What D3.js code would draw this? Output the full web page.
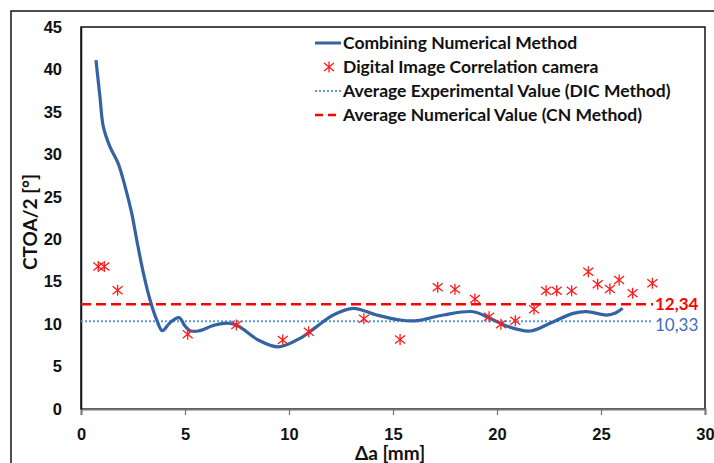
<!DOCTYPE html>
<html>
<head>
<meta charset="utf-8">
<script src="https://cdn.jsdelivr.net/npm/d3@7"></script>
<style>
  html, body { margin: 0; padding: 0; background: #fff; }
  svg { display: block; font-family: Lato, "Liberation Sans", sans-serif; }
</style>
</head>
<body>
<div id="chart"></div>
<script>
// Data
const curveX = [0.72, 0.91, 1.07, 1.39, 1.79, 2.12, 2.44, 2.68, 3.0, 3.32, 3.64, 3.91, 4.28, 4.71, 5.0, 5.24, 5.64, 6.44, 7.08, 7.56, 8.52, 9.5, 10.53, 11.33, 12.13, 13.09, 14.21, 15.34, 16.14, 17.42, 18.86, 19.66, 20.46, 21.59, 22.55, 23.67, 24.31, 25.27, 25.67, 26.04];
const curveY = [41.1, 36.8, 33.3, 30.9, 28.9, 26.2, 23.05, 19.9, 16.0, 12.84, 10.5, 9.23, 10.17, 10.76, 9.78, 9.23, 9.19, 9.9, 10.1, 9.78, 8.13, 7.32, 8.33, 9.7, 11.07, 11.86, 11.07, 10.48, 10.4, 11.07, 11.46, 10.68, 9.78, 9.19, 10.1, 11.27, 11.46, 11.07, 11.27, 11.86];

const dicX = [0.83, 1.12, 1.76, 5.13, 7.47, 9.70, 10.95, 13.6, 15.34, 17.15, 17.98, 18.94, 19.62, 20.19, 20.88, 21.78, 22.36, 22.87, 23.59, 24.39, 24.84, 25.43, 25.87, 26.52, 27.47];
const dicY = [16.8, 16.8, 14.0, 8.8, 9.9, 8.13, 9.1, 10.64, 8.2, 14.33, 14.1, 12.96, 10.88, 9.97, 10.4, 11.74, 13.94, 13.94, 13.94, 16.18, 14.69, 14.14, 15.2, 13.63, 14.8];

const avgDIC = 10.33;
const avgCN = 12.34;
const avgEndX = 27.5;

const xTicks = [0, 5, 10, 15, 20, 25, 30];
const yTicks = [0, 5, 10, 15, 20, 25, 30, 35, 40, 45];

const legendLabels = [
  "Combining Numerical Method",
  "Digital Image Correlation camera",
  "Average Experimental Value (DIC Method)",
  "Average Numerical Value (CN Method)"
];

// Layout
const width = 714, height = 463;
const plot = { left: 81, top: 27, right: 705, bottom: 409 };

const svg = d3.select("#chart").append("svg")
  .attr("width", width)
  .attr("height", height);

// outer frame (cropped on right and bottom)
svg.append("rect")
  .attr("x", 11).attr("y", 11)
  .attr("width", 760).attr("height", 500)
  .attr("fill", "none")
  .attr("stroke", "#222")
  .attr("stroke-width", 1.6);

const x = d3.scaleLinear().domain([0, 30]).range([plot.left, plot.right]);
const y = d3.scaleLinear().domain([0, 45]).range([plot.bottom, plot.top]);

// plot area border
svg.append("rect")
  .attr("x", plot.left).attr("y", plot.top)
  .attr("width", plot.right - plot.left)
  .attr("height", plot.bottom - plot.top)
  .attr("fill", "none")
  .attr("stroke", "#111")
  .attr("stroke-width", 1.5);

// x axis
const xAxis = svg.append("g")
  .attr("transform", `translate(0,${plot.bottom})`)
  .call(d3.axisBottom(x).tickValues(xTicks).tickSize(6).tickPadding(13).tickFormat(d3.format("d")));
xAxis.select(".domain").attr("stroke", "#777").attr("stroke-width", 2);
xAxis.selectAll(".tick line").attr("stroke", "#777").attr("stroke-width", 1.3);
xAxis.selectAll("text")
  .attr("fill", "#111")
  .style("font-size", "16.5px")
  .style("font-weight", "bold");

// y axis
const yAxis = svg.append("g")
  .attr("transform", `translate(${plot.left},0)`)
  .call(d3.axisLeft(y).tickValues(yTicks).tickSize(0).tickPadding(19).tickFormat(d3.format("d")));
yAxis.select(".domain").attr("stroke", "#111").attr("stroke-width", 1.5);
yAxis.selectAll("text")
  .attr("fill", "#111")
  .style("font-size", "16.5px")
  .style("font-weight", "bold");

// axis titles
svg.append("text")
  .attr("x", 390)
  .attr("y", 460)
  .attr("text-anchor", "middle")
  .style("font-size", "19px")
  .style("font-weight", "bold")
  .attr("fill", "#111")
  .text("Δa [mm]");

svg.append("text")
  .attr("transform", `translate(37,222) rotate(-90)`)
  .attr("text-anchor", "middle")
  .style("font-size", "19px")
  .style("font-weight", "bold")
  .attr("fill", "#111")
  .text("CTOA/2 [°]");

// average lines
svg.append("line")
  .attr("x1", x(0)).attr("x2", x(avgEndX))
  .attr("y1", y(avgDIC)).attr("y2", y(avgDIC))
  .attr("stroke", "#5b9bd5")
  .attr("stroke-width", 2)
  .attr("stroke-dasharray", "2,2");

svg.append("line")
  .attr("x1", x(0)).attr("x2", x(avgEndX))
  .attr("y1", y(avgCN)).attr("y2", y(avgCN))
  .attr("stroke", "#ff0000")
  .attr("stroke-width", 2.5)
  .attr("stroke-dasharray", "10,5");

// numerical curve
const curveData = curveX.map((d, i) => [d, curveY[i]]);
const line = d3.line()
  .x(d => x(d[0]))
  .y(d => y(d[1]))
  .curve(d3.curveCatmullRom.alpha(0.5));

svg.append("path")
  .datum(curveData)
  .attr("d", line)
  .attr("fill", "none")
  .attr("stroke", "#3463a3")
  .attr("stroke-width", 3.2);

// DIC asterisks
const starPath = "M0,-5.5V5.5M-5,-4L5,4M-5,4L5,-4";
svg.append("g").selectAll("path")
  .data(dicX.map((d, i) => [d, dicY[i]]))
  .join("path")
  .attr("transform", d => `translate(${x(d[0])},${y(d[1])})`)
  .attr("d", starPath)
  .attr("fill", "none")
  .attr("stroke", "#ff1a1a")
  .attr("stroke-width", 1.3);

// value labels
svg.append("text")
  .attr("x", 655).attr("y", y(avgCN) + 5.5)
  .style("font-size", "17px")
  .style("font-weight", "bold")
  .attr("fill", "#ff0000")
  .text(d3.format(".2f")(avgCN).replace(".", ","));

svg.append("text")
  .attr("x", 655).attr("y", y(avgDIC) + 10)
  .style("font-size", "17px")
  .attr("fill", "#3a6fb5")
  .text(d3.format(".2f")(avgDIC).replace(".", ","));

// legend
const legend = svg.append("g").attr("transform", "translate(315,43)");
const rowH = 24;

legend.append("line")
  .attr("x1", 0).attr("x2", 26).attr("y1", 0).attr("y2", 0)
  .attr("stroke", "#3463a3").attr("stroke-width", 3);
legend.append("path")
  .attr("transform", `translate(14,${rowH})`)
  .attr("d", starPath)
  .attr("fill", "none")
  .attr("stroke", "#ff1a1a")
  .attr("stroke-width", 1.3);
legend.append("line")
  .attr("x1", 0).attr("x2", 26).attr("y1", rowH * 2).attr("y2", rowH * 2)
  .attr("stroke", "#5b9bd5").attr("stroke-width", 2).attr("stroke-dasharray", "2,2");
legend.append("line")
  .attr("x1", 0).attr("x2", 26).attr("y1", rowH * 3).attr("y2", rowH * 3)
  .attr("stroke", "#ff0000").attr("stroke-width", 2.5).attr("stroke-dasharray", "8,5");

legend.selectAll("text.lbl")
  .data(legendLabels)
  .join("text")
  .attr("class", "lbl")
  .attr("x", 28)
  .attr("y", (d, i) => i * rowH + 6)
  .style("font-size", "17.5px")
  .style("font-weight", "bold")
  .attr("fill", "#111")
  .text(d => d);
</script>
</body>
</html>
